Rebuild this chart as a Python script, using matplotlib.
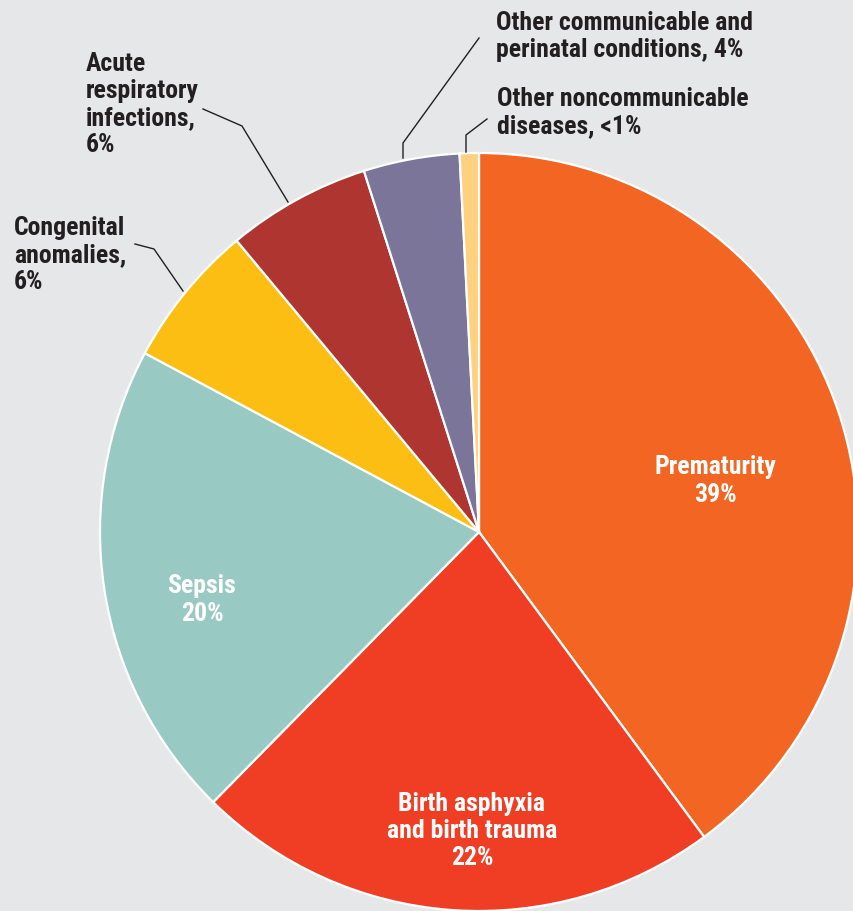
import matplotlib
matplotlib.use("Agg")
import matplotlib.pyplot as plt
from matplotlib import font_manager

# causes of neonatal death, share of total (%)
causes = [
    "Prematurity",
    "Birth asphyxia\nand birth trauma",
    "Sepsis",
    "Congenital\nanomalies,",
    "Acute\nrespiratory\ninfections,",
    "Other communicable and\nperinatal conditions,",
    "Other noncommunicable\ndiseases,",
]
shares = [39, 22, 20, 6, 6, 4, 0.8]
share_labels = ["39%", "22%", "20%", "6%", "6%", "4%", "<1%"]
colors = ["#F26522", "#EF3E23", "#98C9C3", "#FDBE14", "#AF3530", "#7A7599", "#FDD17F"]

W, H = 854, 911
BG = "#E6E7E8"
DARK = "#231F20"

installed = {f.name for f in font_manager.fontManager.ttflist}
family = "DejaVu Sans"
for cand in ["Roboto Condensed", "Liberation Sans Narrow", "Asap Condensed"]:
    if cand in installed:
        family = cand
        break
plt.rcParams["font.family"] = [family, "DejaVu Sans"]
plt.rcParams["font.weight"] = "bold"
plt.rcParams["font.stretch"] = "condensed"

fig = plt.figure(figsize=(W / 100, H / 100), dpi=100, facecolor=BG)
ax = fig.add_axes([0, 0, 1, 1])
ax.set_facecolor(BG)

cx, cy, r = 479, 532, 379
ax.pie(shares, colors=colors, startangle=90, counterclock=False,
       center=(cx, H - cy), radius=r, frame=True,
       wedgeprops=dict(edgecolor="white", linewidth=1.6))

ax.set_xlim(0, W)
ax.set_ylim(0, H)
ax.set_aspect("equal")
ax.axis("off")

fs = 18.5
ls = 1.16

# labels inside the big wedges
inside = {0: (715, 481), 1: (472, 831), 2: (202, 600)}
for i, (x, y) in inside.items():
    ax.text(x, H - y, f"{causes[i]}\n{share_labels[i]}", color="white",
            fontsize=fs, ha="center", va="center", linespacing=ls)

# labels outside with leader lines
outside = {
    3: (14, 217, [(135, 244), (154, 249), (183, 291)]),
    4: (86, 53, [(203, 109), (242, 126), (288, 202)]),
    5: (496, 12, [(479, 38), (403, 143), (403, 158)]),
    6: (497, 88, [(487, 119), (466, 135), (466, 152)]),
}
for i, (x, y, pts) in outside.items():
    name = causes[i]
    if i >= 5:
        text = f"{name} {share_labels[i]}"
    else:
        text = f"{name}\n{share_labels[i]}"
    ax.text(x, H - y + 1, text, color=DARK, fontsize=fs, ha="left", va="top",
            linespacing=ls)
    xs = [p[0] for p in pts]
    ys = [H - p[1] for p in pts]
    ax.plot(xs, ys, color=DARK, linewidth=1.0)

fig.savefig("out.png", dpi=100, facecolor=BG)
